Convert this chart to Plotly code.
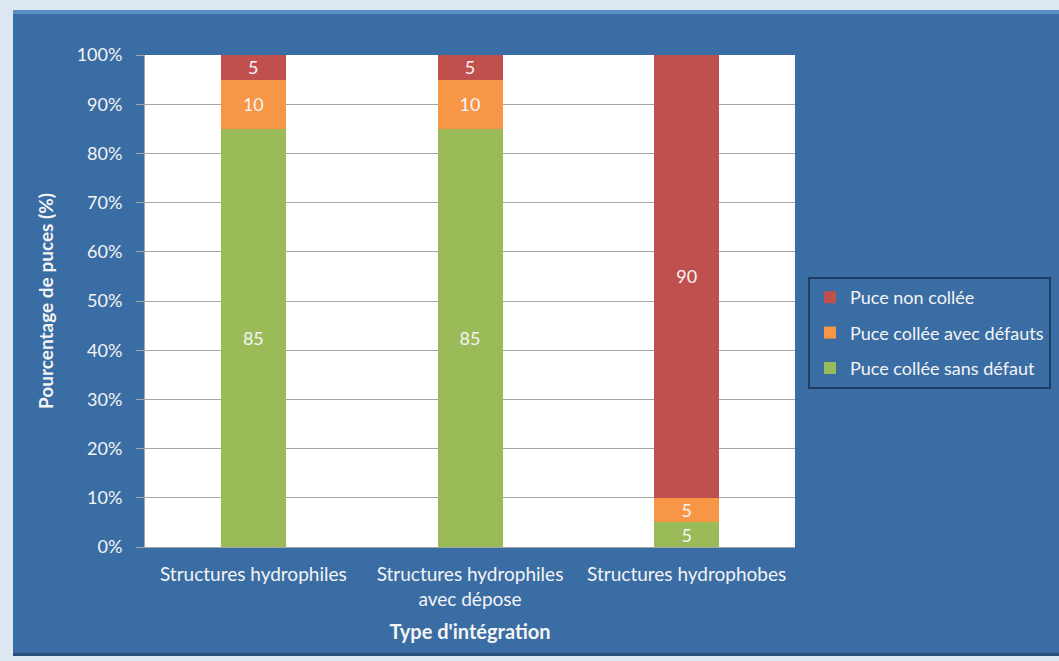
import plotly.graph_objects as go

categories = ["Structures hydrophiles", "Structures hydrophiles<br>avec dépose", "Structures hydrophobes"]
sans_defaut = [85, 85, 5]
avec_defauts = [10, 10, 5]
non_collee = [5, 5, 90]
series_names = ["Puce collée sans défaut", "Puce collée avec défauts", "Puce non collée"]
tick_vals = [0, 10, 20, 30, 40, 50, 60, 70, 80, 90, 100]
tick_text = [f"{v}%" for v in tick_vals]

colors = ["#9bbb59", "#f79646", "#c0504d"]
ranks = [3, 2, 1]
BLUE = "#3a6da4"
FONT = "Lato"
TXT = "#f4f4f4"

W, H = 1059, 661
L, R, T, B = 145, 795, 55, 547
pw, ph = R - L, B - T

def px_x(x):
    return (x - L) / pw

def px_y(y):
    return (B - y) / ph

fig = go.Figure()
for name, vals, col, rk in zip(series_names, [sans_defaut, avec_defauts, non_collee], colors, ranks):
    fig.add_trace(go.Bar(
        x=categories, y=vals, name=name, marker_color=col,
        marker_line_width=0, width=0.3,
        text=[str(v) for v in vals], textposition="inside",
        insidetextanchor="middle", textangle=0, constraintext="none",
        textfont=dict(color=TXT, size=18, family=FONT),
        legendgroup=name, legendrank=rk,
    ))

shapes = [
    dict(type="rect", xref="paper", yref="paper", x0=px_x(13), x1=px_x(1062),
         y0=px_y(656), y1=px_y(10), fillcolor=BLUE, line=dict(width=0), layer="below"),
    dict(type="rect", xref="paper", yref="paper", x0=px_x(13), x1=px_x(1062),
         y0=px_y(14), y1=px_y(10), fillcolor="#5b8ec4", line=dict(width=0), layer="below"),
    dict(type="rect", xref="paper", yref="paper", x0=px_x(13), x1=px_x(1062),
         y0=px_y(656), y1=px_y(653), fillcolor="#2a4f78", line=dict(width=0), layer="below"),
    dict(type="rect", xref="paper", yref="paper", x0=0, x1=1, y0=0, y1=1,
         fillcolor="white", line=dict(width=0), layer="below"),
]

fig.update_layout(
    width=W, height=H,
    margin=dict(l=L, r=W - R, t=T, b=H - B, pad=0, autoexpand=False),
    paper_bgcolor="#dde7f2", plot_bgcolor="white",
    barmode="stack", bargap=0.7,
    font=dict(family=FONT, color=TXT, size=18),
    shapes=shapes,
    showlegend=True,
    legend=dict(
        x=px_x(808), y=px_y(277), xanchor="left", yanchor="top",
        bgcolor=BLUE, bordercolor="#1f3d63", borderwidth=2,
        traceorder="grouped", tracegroupgap=9,
        font=dict(family=FONT, color=TXT, size=18),
        itemwidth=30,
    ),
    xaxis=dict(
        showgrid=False, showline=True, linecolor="#a6a6a6", linewidth=1,
        ticks="", tickfont=dict(color=TXT, size=19, family=FONT),
        ticklabelstandoff=10,
        title=dict(text="<b>Type d'intégration</b>", font=dict(color=TXT, size=20, family=FONT), standoff=16),
    ),
    yaxis=dict(
        range=[0, 100], tickvals=tick_vals, ticktext=tick_text,
        showgrid=True, gridcolor="#a6a6a6", gridwidth=1,
        showline=True, linecolor="#a6a6a6", linewidth=1,
        ticks="outside", ticklen=8, tickcolor="#a6a6a6",
        tickfont=dict(color=TXT, size=18, family=FONT),
        ticklabelstandoff=10,
        title=dict(text="<b>Pourcentage de puces (%)</b>", font=dict(color=TXT, size=19, family=FONT), standoff=18),
        zeroline=False,
    ),
)

fig.write_html("out.html", config={"displayModeBar": False},
               post_script="document.body.style.margin='0';")
